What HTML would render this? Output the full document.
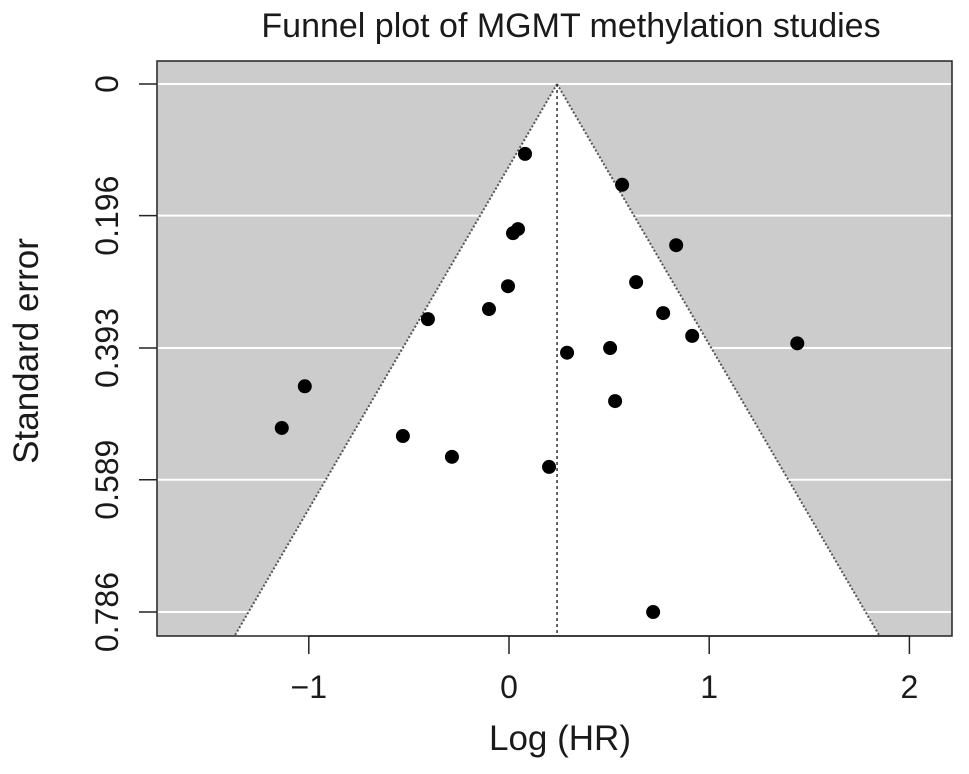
<!DOCTYPE html>
<html><head><meta charset="utf-8"><style>
body{margin:0;background:#fff}
svg text{font-family:"Liberation Sans",sans-serif;fill:#1a1a1a}
</style></head><body>
<svg id="c" width="969" height="769">
<text x="571" y="37" font-size="34" text-anchor="middle">Funnel plot of MGMT methylation studies</text>
<text x="560" y="750" font-size="35" text-anchor="middle">Log (HR)</text>
<text transform="translate(38,351) rotate(-90)" font-size="35" text-anchor="middle">Standard error</text>
<g id="plot"></g>
</svg>
<script>
const logHR=[0.08,0.565,0.045,0.02,0.835,0.635,-0.005,-0.10,0.77,-0.405,0.915,1.44,0.29,0.505,-1.02,0.53,-1.135,-0.53,-0.285,0.20,0.72];
const stdErr=[0.104,0.150,0.216,0.222,0.240,0.295,0.301,0.335,0.341,0.350,0.375,0.386,0.400,0.393,0.450,0.472,0.512,0.524,0.555,0.570,0.786];
const xTicks=[-1,0,1,2];
const xTickLabels=["\u22121","0","1","2"];
const yTicks=[0,0.196,0.393,0.589,0.786];
const yTickLabels=["0","0.196","0.393","0.589","0.786"];
const pooled=0.24;
const seMax=0.822;
const L=157,R=952,T=61,B=636;
const sx=v=>509+v*200.2;
const sy=v=>84+v*671.8;
const NS="http://www.w3.org/2000/svg";
const svg=document.getElementById('c');
function mk(t,a,p){const e=document.createElementNS(NS,t);for(const k in a)e.setAttribute(k,a[k]);(p||svg).appendChild(e);return e;}
const g=document.getElementById('plot');
let e=mk('rect',{x:L,y:T,width:R-L,height:B-T,fill:'#cccccc'},g);

yTicks.forEach((t,i)=>{const l=mk('line',{x1:L,x2:R,y1:sy(t),y2:sy(t),stroke:'#fff','stroke-width':2},g);
});
const xl=sx(pooled-1.96*seMax),xr=sx(pooled+1.96*seMax);
e=mk('polygon',{points:`${sx(pooled)},${sy(0)} ${xl},${B} ${xr},${B}`,fill:'#fff'},g);

[[xl],[xr]].forEach(([x])=>{const l=mk('line',{x1:sx(pooled),y1:sy(0),x2:x,y2:B,stroke:'#555','stroke-width':2,'stroke-dasharray':'2,2'},g);
});
e=mk('line',{x1:sx(pooled),x2:sx(pooled),y1:sy(0),y2:B,stroke:'#333','stroke-width':1.5,'stroke-dasharray':'3,3'},g);

e=mk('rect',{x:L,y:T,width:R-L,height:B-T,fill:'none',stroke:'#222','stroke-width':1.5},g);

logHR.forEach((v,i)=>{const c=mk('circle',{cx:sx(v),cy:sy(stdErr[i]),r:7,fill:'#000'},g);
});
e=mk('line',{x1:sx(xTicks[0]),x2:sx(xTicks[xTicks.length-1]),y1:B,y2:B,stroke:'#222','stroke-width':1.5},g);

xTicks.forEach((t,i)=>{const l=mk('line',{x1:sx(t),x2:sx(t),y1:B,y2:B+18,stroke:'#222','stroke-width':1.5},g);

const tx=mk('text',{x:sx(t),y:698,'font-size':32,'text-anchor':'middle'},g);tx.textContent=xTickLabels[i];
});
yTicks.forEach((t,i)=>{const l=mk('line',{x1:L-18,x2:L,y1:sy(t),y2:sy(t),stroke:'#222','stroke-width':1.5},g);

const tx=mk('text',{transform:`translate(118,${sy(t)}) rotate(-90)`,'font-size':32,'text-anchor':'middle'},g);tx.textContent=yTickLabels[i];
});
</script>
</body></html>
